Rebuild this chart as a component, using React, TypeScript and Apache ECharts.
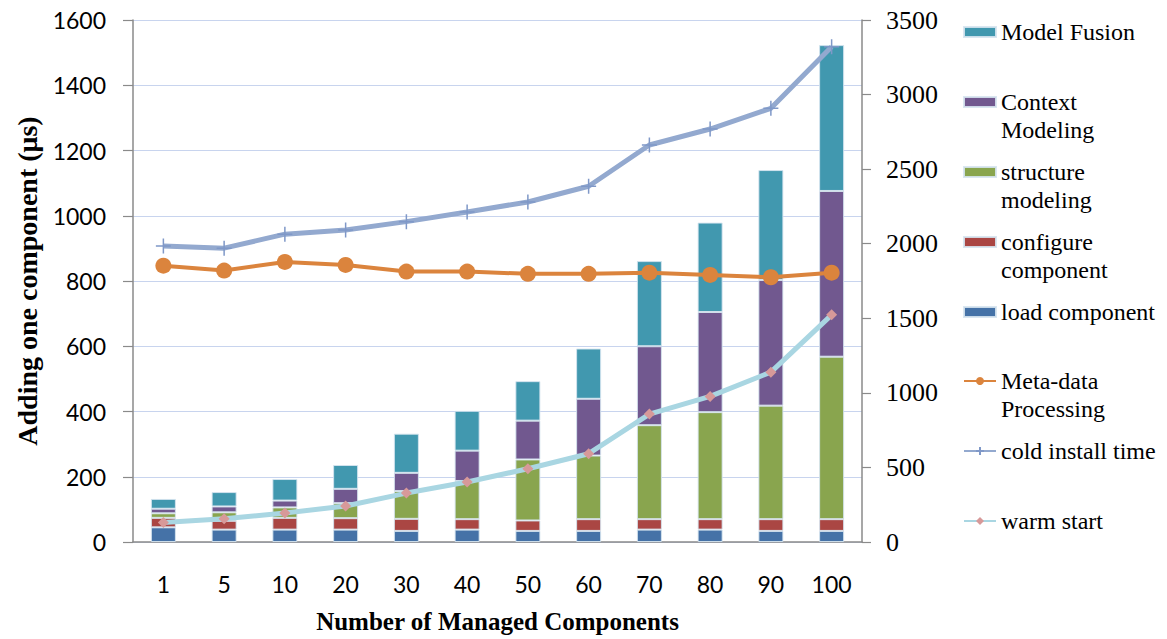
import React, { useEffect, useRef } from "react";
import * as echarts from "echarts";

// Number of managed components (x categories)
const categories = ["1", "5", "10", "20", "30", "40", "50", "60", "70", "80", "90", "100"];

// Stacked cost of adding one component (µs), left axis
const loadComponent = [45, 38, 38, 38, 34, 38, 34, 34, 38, 38, 34, 34];
const configureComponent = [29, 27, 36, 35, 37, 32, 32, 36, 32, 32, 36, 36];
const structureModeling = [14, 26, 32, 46, 85, 117, 187, 195, 288, 328, 348, 498];
const contextModeling = [14, 18, 21, 44, 56, 93, 119, 174, 242, 307, 385, 508];
const modelFusion = [30, 44, 66, 73, 120, 122, 121, 154, 261, 274, 337, 447];

// Line series, right axis
const metaDataProcessing = [1853, 1820, 1878, 1858, 1813, 1813, 1798, 1798, 1806, 1791, 1775, 1806];
const coldInstallTime = [1985, 1970, 2064, 2092, 2148, 2213, 2280, 2385, 2662, 2769, 2908, 3320];
const warmStart = [131, 156, 194, 241, 328, 402, 491, 592, 858, 976, 1139, 1523];

const SANS = "Lato, 'Open Sans', sans-serif";
const SERIF = "'Liberation Serif', 'Times New Roman', serif";
const AXIS_GREY = "#8a8a8a";

const COLORS = {
  load: "#4572A7",
  configure: "#AA4643",
  structure: "#89A54E",
  context: "#71588F",
  fusion: "#4198AF",
  meta: "#DB843D",
  cold: "#93A9CF",
  coldMark: "#7F98C8",
  warm: "#A9D6E2",
  warmMark: "#D79999",
};

// Legend rows: series name, text lines, vertical centre of the first line
const legendRows = [
  { name: "Model Fusion", lines: ["Model Fusion"], y: 32, bar: true },
  { name: "Context Modeling", lines: ["Context", "Modeling"], y: 102, bar: true },
  { name: "structure modeling", lines: ["structure", "modeling"], y: 172, bar: true },
  { name: "configure component", lines: ["configure", "component"], y: 242, bar: true },
  { name: "load component", lines: ["load component"], y: 312, bar: true },
  { name: "Meta-data Processing", lines: ["Meta-data", "Processing"], y: 381, bar: false },
  { name: "cold install time", lines: ["cold install time"], y: 451, bar: false },
  { name: "warm start", lines: ["warm start"], y: 521, bar: false },
];

const LINE_H = 28;

function barSeries(name: string, data: number[], color: string) {
  return {
    name,
    type: "bar",
    stack: "total",
    yAxisIndex: 0,
    barWidth: 25,
    data,
    itemStyle: { color, borderColor: "rgba(214,228,240,0.9)", borderWidth: 1 },
    z: 2,
  };
}

function buildOption() {
  const legends = legendRows.map((r) => {
    const twoLine = r.lines.length > 1;
    // The legend text is centred on its icon, so a blank leading line keeps
    // the icon level with the first line of a two-line entry.
    const text = twoLine ? [" ", ...r.lines].join("\n") : r.lines[0];
    return {
      show: true,
      data: [r.name],
      left: 963,
      top: twoLine ? r.y - LINE_H * 1.5 : r.y - LINE_H / 2,
      padding: 0,
      orient: "vertical",
      itemWidth: 32,
      itemHeight: 10,
      selectedMode: false,
      icon: r.bar ? "rect" : undefined,
      formatter: () => text,
      textStyle: {
        fontFamily: SERIF,
        fontSize: 24,
        lineHeight: LINE_H,
        color: "#000",
      },
    };
  });

  const plain = (v: number) => String(v);

  return {
    animation: false,
    backgroundColor: "#ffffff",
    grid: { left: 133, right: 305, top: 20, bottom: 97, containLabel: false },
    legend: legends,
    xAxis: {
      type: "category",
      data: categories,
      boundaryGap: true,
      axisLine: { lineStyle: { color: AXIS_GREY, width: 1.5 } },
      axisTick: { length: 8, lineStyle: { color: AXIS_GREY, width: 1.2 } },
      axisLabel: { fontFamily: SANS, fontSize: 23, color: "#000", margin: 30 },
      name: "Number of Managed Components",
      nameLocation: "middle",
      nameGap: 67,
      nameTextStyle: { fontFamily: SERIF, fontWeight: "bold", fontSize: 25, color: "#000" },
    },
    yAxis: [
      {
        type: "value",
        min: 0,
        max: 1600,
        interval: 200,
        position: "left",
        axisLine: { show: true, lineStyle: { color: AXIS_GREY, width: 1.5 } },
        axisTick: { show: true, length: 10, lineStyle: { color: AXIS_GREY, width: 1.2 } },
        axisLabel: { fontFamily: SANS, fontSize: 23, color: "#000", margin: 27, formatter: plain },
        splitLine: { show: true, lineStyle: { color: "#c8d4ee", width: 1 } },
        name: "Adding one component (μs)",
        nameLocation: "middle",
        nameGap: 92,
        nameRotate: 90,
        nameTextStyle: { fontFamily: SERIF, fontWeight: "bold", fontSize: 28, color: "#000" },
      },
      {
        type: "value",
        min: 0,
        max: 3500,
        interval: 500,
        position: "right",
        axisLine: { show: true, lineStyle: { color: AXIS_GREY, width: 1.5 } },
        axisTick: { show: true, length: 9, lineStyle: { color: AXIS_GREY, width: 1.2 } },
        axisLabel: { fontFamily: SERIF, fontSize: 26, color: "#000", margin: 24, formatter: plain },
        splitLine: { show: false },
      },
    ],
    series: [
      barSeries("load component", loadComponent, COLORS.load),
      barSeries("configure component", configureComponent, COLORS.configure),
      barSeries("structure modeling", structureModeling, COLORS.structure),
      barSeries("Context Modeling", contextModeling, COLORS.context),
      barSeries("Model Fusion", modelFusion, COLORS.fusion),
      {
        name: "Meta-data Processing",
        type: "line",
        yAxisIndex: 1,
        data: metaDataProcessing,
        symbol: "circle",
        symbolSize: 16,
        lineStyle: { color: COLORS.meta, width: 4 },
        itemStyle: { color: COLORS.meta },
        z: 4,
      },
      {
        name: "cold install time",
        type: "line",
        yAxisIndex: 1,
        data: coldInstallTime,
        symbol: "path://M0 10H20M10 0V20",
        symbolSize: 15,
        lineStyle: { color: COLORS.cold, width: 5 },
        itemStyle: { color: COLORS.cold, borderColor: COLORS.coldMark, borderWidth: 1.5 },
        z: 4,
      },
      {
        name: "warm start",
        type: "line",
        yAxisIndex: 1,
        data: warmStart,
        symbol: "diamond",
        symbolSize: 11,
        lineStyle: { color: COLORS.warm, width: 5 },
        itemStyle: { color: COLORS.warmMark },
        z: 4,
      },
    ],
  };
}

export default function App() {
  const ref = useRef<HTMLDivElement>(null);

  useEffect(() => {
    if (!ref.current) return;
    const chart = echarts.init(ref.current, undefined, { renderer: "svg" });
    chart.setOption(buildOption() as any);
    return () => chart.dispose();
  }, []);

  return (
    <div
      ref={ref}
      style={{ position: "fixed", left: 0, top: 0, width: 1167, height: 639, background: "#fff" }}
    />
  );
}
